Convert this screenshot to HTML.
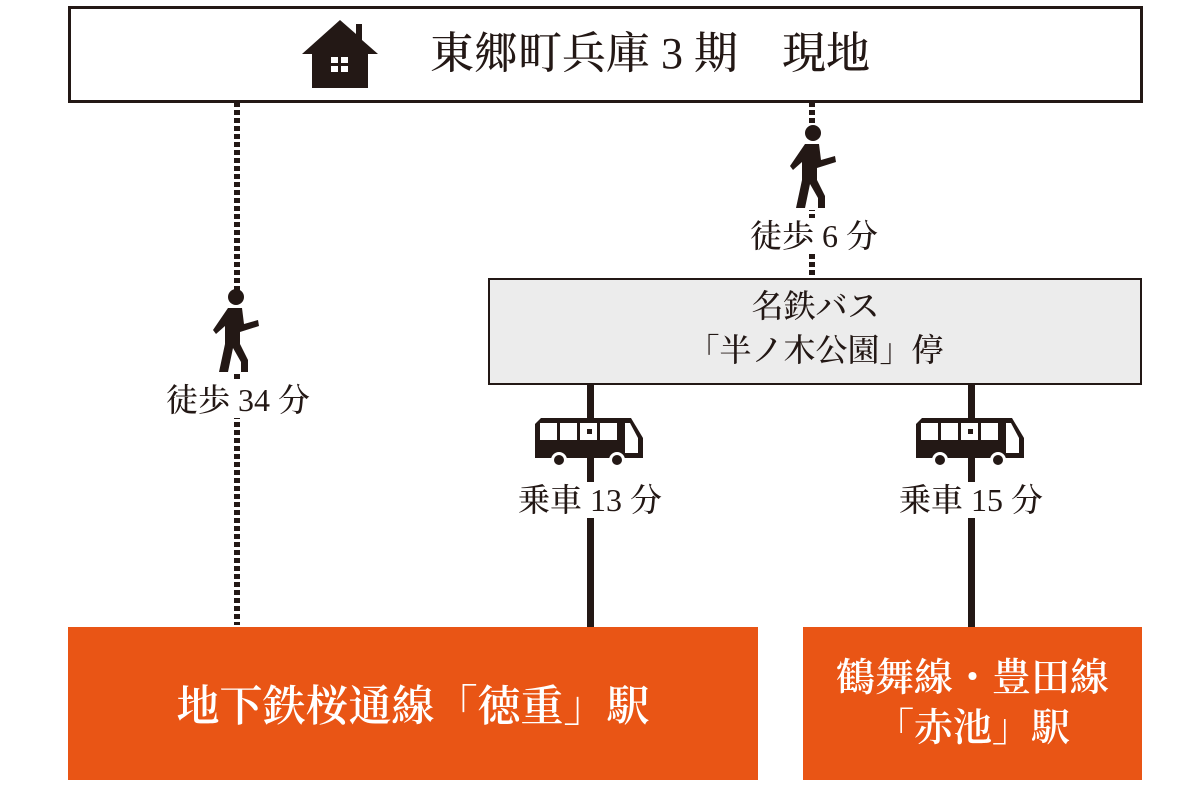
<!DOCTYPE html>
<html><head><meta charset="utf-8"><style>
body{margin:0;width:1200px;height:796px;background:#fff;position:relative;overflow:hidden;font-family:"Liberation Serif","Noto Serif CJK SC",serif;color:#231815;font-weight:500}
.a{position:absolute}
.lbl{position:absolute;background:#fff;font-size:32px;line-height:36px;white-space:nowrap;transform:translateX(-50%);padding:0 2px}
</style></head><body>
<div class="a" style="left:68px;top:6px;width:1069px;height:91px;border:3px solid #231815"></div>
<div class="a" style="left:430px;top:26px;font-size:44px;line-height:56px;letter-spacing:0px">東郷町兵庫 3 期　現地</div>
<svg class="a" style="left:300px;top:18px" width="80" height="72" viewBox="0 0 80 72">
<polygon points="40,2 2,36 12,36 12,70 68,70 68,36 78,36 62,22 62,6 56,6 56,16" fill="#231815"/>
<rect x="31" y="39" width="7" height="6" fill="#fff"/><rect x="41" y="39" width="7" height="6" fill="#fff"/>
<rect x="31" y="48" width="7" height="6" fill="#fff"/><rect x="41" y="48" width="7" height="6" fill="#fff"/>
</svg>
<div class="a" style="left:234px;top:102px;width:6px;height:523px;background:repeating-linear-gradient(#231815 0 5px,transparent 5px 8px)"></div>
<div class="a" style="left:809px;top:102px;width:6px;height:176px;background:repeating-linear-gradient(#231815 0 5px,transparent 5px 8px)"></div>
<div class="a" style="left:587px;top:384px;width:7px;height:243px;background:#231815"></div>
<div class="a" style="left:968px;top:384px;width:7px;height:243px;background:#231815"></div>
<div class="a" style="left:488px;top:278px;width:650px;height:103px;border:2.5px solid #231815;background:#ececec"></div>
<div class="a" style="left:488px;top:284px;width:655px;text-align:center;font-size:32px;line-height:44px">名鉄バス<br>「半ノ木公園」停</div>
<svg class="a" style="left:210px;top:288px" width="55" height="86" viewBox="0 0 55 86">
<rect x="12" y="14" width="30" height="72" fill="#fff"/>
<circle cx="26" cy="9" r="8" fill="#231815"/>
<path d="M18 20 L32 20 L34 36 L48 32 L49 38 L30 44 L30 56 L38 72 L38 84 L31 84 L31 74 L23 60 L18 84 L9 84 L15 56 L15 38 L6 46 L3 42 Z" fill="#231815"/>
</svg>
<svg class="a" style="left:787px;top:124px" width="55" height="86" viewBox="0 0 55 86">
<rect x="12" y="14" width="30" height="72" fill="#fff"/>
<circle cx="26" cy="9" r="8" fill="#231815"/>
<path d="M18 20 L32 20 L34 36 L48 32 L49 38 L30 44 L30 56 L38 72 L38 84 L31 84 L31 74 L23 60 L18 84 L9 84 L15 56 L15 38 L6 46 L3 42 Z" fill="#231815"/>
</svg>
<svg class="a" style="left:535px;top:418px" width="112" height="52" viewBox="0 0 112 52">
<path d="M6 0 H96 L108 20 V40 H0 V6 Z" fill="#231815"/>
<rect x="5" y="5" width="17" height="17" fill="#fff"/><rect x="25" y="5" width="17" height="17" fill="#fff"/>
<rect x="45" y="5" width="17" height="17" fill="#fff"/><rect x="65" y="5" width="17" height="17" fill="#fff"/>
<rect x="52" y="11" width="5" height="5" fill="#231815"/>
<path d="M87 5 H95 L103 20 V35 H90 V5 Z" fill="#fff"/>
<circle cx="24" cy="42" r="8" fill="#fff"/><circle cx="24" cy="42" r="5" fill="#231815"/>
<circle cx="82" cy="42" r="8" fill="#fff"/><circle cx="82" cy="42" r="5" fill="#231815"/>
</svg>
<svg class="a" style="left:916px;top:418px" width="112" height="52" viewBox="0 0 112 52">
<path d="M6 0 H96 L108 20 V40 H0 V6 Z" fill="#231815"/>
<rect x="5" y="5" width="17" height="17" fill="#fff"/><rect x="25" y="5" width="17" height="17" fill="#fff"/>
<rect x="45" y="5" width="17" height="17" fill="#fff"/><rect x="65" y="5" width="17" height="17" fill="#fff"/>
<rect x="52" y="11" width="5" height="5" fill="#231815"/>
<path d="M87 5 H95 L103 20 V35 H90 V5 Z" fill="#fff"/>
<circle cx="24" cy="42" r="8" fill="#fff"/><circle cx="24" cy="42" r="5" fill="#231815"/>
<circle cx="82" cy="42" r="8" fill="#fff"/><circle cx="82" cy="42" r="5" fill="#231815"/>
</svg>
<div class="lbl" style="left:238px;top:382px">徒歩 34 分</div>
<div class="lbl" style="left:814px;top:218px">徒歩 6 分</div>
<div class="lbl" style="left:590px;top:482px">乗車 13 分</div>
<div class="lbl" style="left:971px;top:482px">乗車 15 分</div>
<div class="a" style="left:68px;top:627px;width:690px;height:153px;background:#e95515;color:#fff;font-size:43px;font-weight:600;display:flex;align-items:center;justify-content:center">地下鉄桜通線「徳重」駅</div>
<div class="a" style="left:803px;top:627px;width:339px;height:153px;background:#e95515;color:#fff;font-size:39px;font-weight:600;line-height:50px;display:flex;align-items:center;justify-content:center;text-align:center">鶴舞線・豊田線<br>「赤池」駅</div>
</body></html>
